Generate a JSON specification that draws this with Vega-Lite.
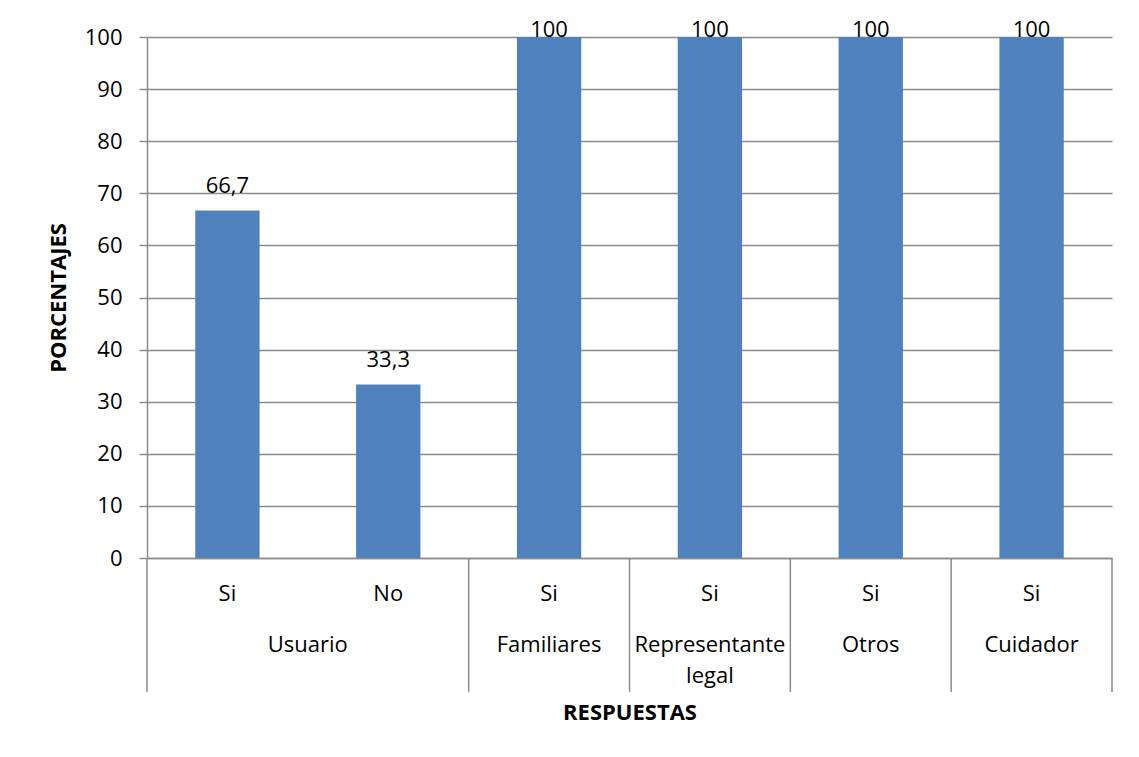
{
  "$schema": "https://vega.github.io/schema/vega-lite/v6.json",
  "width": 965,
  "height": 521,
  "autosize": {"type": "none"},
  "padding": {"left": 147, "top": 37, "right": 27, "bottom": 199},
  "background": "white",
  "config": {
    "view": {"stroke": null},
    "font": "Open Sans",
    "text": {"font": "Open Sans", "fontSize": 22, "color": "#000000"}
  },
  "datasets": {
    "respuestas": [
      {"grupo": "Usuario", "respuesta": "Si", "cat": "Usuario|Si", "porcentaje": 66.7},
      {"grupo": "Usuario", "respuesta": "No", "cat": "Usuario|No", "porcentaje": 33.3},
      {"grupo": "Familiares", "respuesta": "Si", "cat": "Familiares|Si", "porcentaje": 100},
      {"grupo": "Representante legal", "respuesta": "Si", "cat": "Representante legal|Si", "porcentaje": 100},
      {"grupo": "Otros", "respuesta": "Si", "cat": "Otros|Si", "porcentaje": 100},
      {"grupo": "Cuidador", "respuesta": "Si", "cat": "Cuidador|Si", "porcentaje": 100}
    ]
  },
  "data": {"name": "respuestas"},
  "layer": [
    {
      "mark": {"type": "bar", "color": "#4F81BD", "width": {"band": 0.4}},
      "encoding": {
        "x": {
          "field": "cat",
          "type": "nominal",
          "sort": null,
          "scale": {"paddingInner": 0, "paddingOuter": 0},
          "axis": {
            "title": "RESPUESTAS",
            "titleFont": "Open Sans",
            "titleFontSize": 22,
            "titleFontWeight": "bold",
            "titleColor": "#000000",
            "titlePadding": 98,
            "labelExpr": "split(datum.label, '|')[1]",
            "labelAngle": 0,
            "labelFont": "Open Sans",
            "labelFontSize": 22,
            "labelColor": "#000000",
            "labelBaseline": "alphabetic",
            "labelPadding": 42,
            "ticks": false,
            "tickSize": 0,
            "domainColor": "#8c8c8c",
            "domainWidth": 1.5,
            "grid": false
          }
        },
        "y": {
          "field": "porcentaje",
          "type": "quantitative",
          "scale": {"domain": [0, 100], "nice": false},
          "axis": {
            "title": "PORCENTAJES",
            "titleFont": "Open Sans",
            "titleFontSize": 22,
            "titleFontWeight": "bold",
            "titleColor": "#000000",
            "titlePadding": 14,
            "values": [0, 10, 20, 30, 40, 50, 60, 70, 80, 90, 100],
            "labelFont": "Open Sans",
            "labelFontSize": 22,
            "labelColor": "#000000",
            "labelPadding": 17,
            "tickSize": 8,
            "tickColor": "#8c8c8c",
            "tickWidth": 1.5,
            "domainColor": "#8c8c8c",
            "domainWidth": 1.5,
            "grid": true,
            "gridColor": "#8c8c8c",
            "gridWidth": 1.5
          }
        }
      }
    },
    {
      "transform": [
        {"calculate": "replace(format(datum.porcentaje, '.1~f'), '.', ',')", "as": "etiqueta"},
        {"calculate": "min(datum.porcentaje + 3.3, 100)", "as": "altura_etiqueta"}
      ],
      "mark": {"type": "text", "baseline": "alphabetic", "align": "center"},
      "encoding": {
        "x": {"field": "cat", "type": "nominal", "sort": null},
        "y": {"field": "altura_etiqueta", "type": "quantitative"},
        "text": {"field": "etiqueta"}
      }
    },
    {
      "transform": [{"filter": "datum.respuesta == 'Si'"}],
      "mark": {"type": "rule", "color": "#8c8c8c", "strokeWidth": 1.5},
      "encoding": {
        "x": {"field": "cat", "type": "nominal", "sort": null, "bandPosition": 0},
        "y": {"datum": 0},
        "y2": {"datum": -25.7}
      }
    },
    {
      "transform": [{"filter": "datum.cat == 'Cuidador|Si'"}],
      "mark": {"type": "rule", "color": "#8c8c8c", "strokeWidth": 1.5},
      "encoding": {
        "x": {"field": "cat", "type": "nominal", "sort": null, "bandPosition": 1},
        "y": {"datum": 0},
        "y2": {"datum": -25.7}
      }
    },
    {
      "transform": [{"filter": "datum.grupo == 'Usuario' && datum.respuesta == 'Si'"}],
      "mark": {"type": "text", "baseline": "alphabetic", "align": "center"},
      "encoding": {
        "x": {"field": "cat", "type": "nominal", "sort": null, "bandPosition": 1},
        "y": {"datum": -18},
        "text": {"field": "grupo"}
      }
    },
    {
      "transform": [{"filter": "datum.grupo != 'Usuario'"}],
      "mark": {"type": "text", "baseline": "alphabetic", "align": "center", "lineBreak": " ", "lineHeight": 31},
      "encoding": {
        "x": {"field": "cat", "type": "nominal", "sort": null, "bandPosition": 0.5},
        "y": {"datum": -18},
        "text": {"field": "grupo"}
      }
    }
  ]
}
